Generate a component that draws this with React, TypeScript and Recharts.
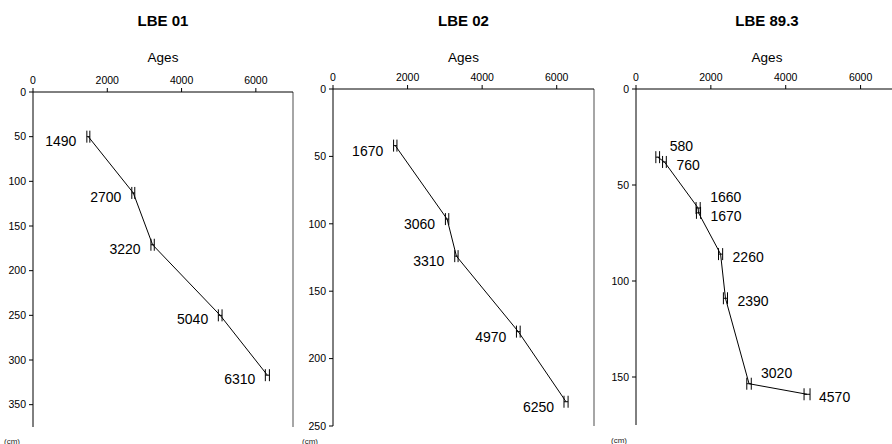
import React from "react";
import { ErrorBar, ReferenceLine, Scatter, ScatterChart, XAxis, YAxis } from "recharts";

// LBE 01 core
const lbe01Ages = [1490, 2700, 3220, 5040, 6310];
const lbe01Depths = [50, 113, 171, 250, 317];
const lbe01Errors = [40, 40, 45, 50, 55];

// LBE 02 core
const lbe02Ages = [1670, 3060, 3310, 4970, 6250];
const lbe02Depths = [42, 96.5, 124, 180, 232];
const lbe02Errors = [45, 45, 45, 50, 55];

// LBE 89.3 core
const lbe893Ages = [580, 760, 1660, 1670, 2260, 2390, 3020, 4570];
const lbe893Depths = [35.5, 38, 62, 64.5, 86, 109, 153.5, 159];
const lbe893Errors = [50, 50, 55, 55, 55, 55, 60, 80];

const ageTicks = [0, 2000, 4000, 6000];
const font = '"Liberation Sans", Arial, sans-serif';

const buildRows = (ages: number[], depths: number[], errors: number[]) =>
  ages.map((age, i) => ({
    age,
    depth: depths[i],
    err: errors[i],
    // lift the label when the next sample sits right below
    raised: i < depths.length - 1 && depths[i + 1] - depths[i] < 6,
  }));

const labelShape = (side: "left" | "right", dy: number) => (props: any) => {
  const { cx, cy, payload } = props;
  if (cx == null || cy == null) return <g />;
  const off = side === "right" && payload.raised ? -11 : dy;
  return (
    <text
      x={side === "left" ? cx - 12 : cx + 12}
      y={cy + off}
      textAnchor={side === "left" ? "end" : "start"}
      dominantBaseline="central"
      fontSize={14}
      fontFamily={font}
      fill="#000"
    >
      {payload.age}
    </text>
  );
};

type PanelProps = {
  title: string;
  rows: any[];
  yMax: number;
  yTicks: number[];
  left: number;
  width: number;
  yAxisWidth: number;
  margin: { top: number; right: number; bottom: number; left: number };
  side: "left" | "right";
  dy: number;
  cmX: number;
  cmY: number;
};

const Panel = (p: PanelProps) => {
  const plotLeft = p.left + p.margin.left + p.yAxisWidth;
  const plotRight = p.left + p.width - p.margin.right;
  const center = (plotLeft + plotRight) / 2;
  return (
    <>
      <div
        style={{
          position: "absolute",
          left: center,
          top: 20,
          transform: "translate(-50%, -50%)",
          fontFamily: font,
          fontWeight: "bold",
          fontSize: 15,
          whiteSpace: "nowrap",
        }}
      >
        {p.title}
      </div>
      <div
        style={{
          position: "absolute",
          left: center,
          top: 57,
          transform: "translate(-50%, -50%)",
          fontFamily: font,
          fontSize: 13.5,
        }}
      >
        Ages
      </div>
      <div
        style={{
          position: "absolute",
          left: p.cmX,
          top: p.cmY,
          transform: "translate(-50%, -50%)",
          fontFamily: font,
          fontSize: 8,
          color: "#222",
        }}
      >
        (cm)
      </div>
      <div style={{ position: "absolute", left: p.left, top: 0 }}>
        <ScatterChart width={p.width} height={444} margin={p.margin}>
          <XAxis
            type="number"
            dataKey="age"
            orientation="top"
            domain={[0, 7000]}
            ticks={ageTicks}
            height={30}
            tickSize={4}
            tickMargin={4}
            stroke="#000"
            tick={{ fontSize: 10.5, fill: "#000", fontFamily: font }}
            allowDataOverflow
          />
          <YAxis
            type="number"
            dataKey="depth"
            reversed
            domain={[0, p.yMax]}
            ticks={p.yTicks}
            width={p.yAxisWidth}
            tickSize={4}
            tickMargin={3}
            stroke="#000"
            tick={{ fontSize: 10.5, fill: "#000", fontFamily: font }}
            allowDataOverflow
          />
          <ReferenceLine x={7000} stroke="#888" strokeWidth={1.5} ifOverflow="visible" />
          <Scatter
            data={p.rows}
            line={{ stroke: "#000", strokeWidth: 1 }}
            shape={labelShape(p.side, p.dy)}
            isAnimationActive={false}
          >
            <ErrorBar dataKey="err" direction="x" width={6} stroke="#000" strokeWidth={1} isAnimationActive={false} />
          </Scatter>
        </ScatterChart>
      </div>
    </>
  );
};

export default function App() {
  return (
    <div
      style={{
        position: "fixed",
        left: 0,
        top: 0,
        width: 892,
        height: 444,
        overflow: "hidden",
        background: "#fff",
      }}
    >
      <Panel
        title="LBE 01"
        rows={buildRows(lbe01Ages, lbe01Depths, lbe01Errors)}
        yMax={375}
        yTicks={[0, 50, 100, 150, 200, 250, 300, 350]}
        left={0}
        width={300}
        yAxisWidth={33}
        margin={{ top: 62, right: 7, bottom: 17, left: 0 }}
        side="left"
        dy={4}
        cmX={12}
        cmY={441}
      />
      <Panel
        title="LBE 02"
        rows={buildRows(lbe02Ages, lbe02Depths, lbe02Errors)}
        yMax={250}
        yTicks={[0, 50, 100, 150, 200, 250]}
        left={296}
        width={300}
        yAxisWidth={37}
        margin={{ top: 59, right: 2, bottom: 18, left: 0 }}
        side="left"
        dy={5}
        cmX={310}
        cmY={441}
      />
      <Panel
        title="LBE 89.3"
        rows={buildRows(lbe893Ages, lbe893Depths, lbe893Errors)}
        yMax={175}
        yTicks={[0, 50, 100, 150]}
        left={596}
        width={310}
        yAxisWidth={40}
        margin={{ top: 59, right: 8, bottom: 19, left: 0 }}
        side="right"
        dy={3}
        cmX={619}
        cmY={440}
      />
    </div>
  );
}
